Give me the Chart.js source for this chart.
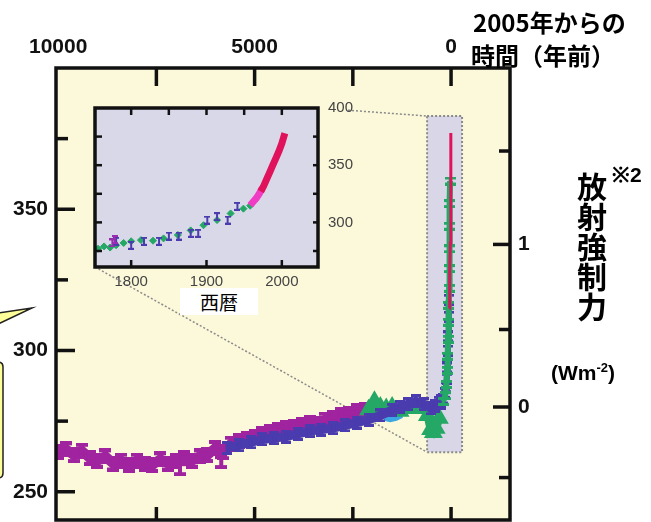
<!DOCTYPE html>
<html>
<head>
<meta charset="utf-8">
<script src="https://cdn.jsdelivr.net/npm/chart.js@4.4.1/dist/chart.umd.min.js"></script>
<style>
  body { margin: 0; background: #fff; }
  #wrap { position: relative; width: 651px; height: 522px; overflow: hidden; }
  #main { position: absolute; left: 0; top: 0; }
  #inset { position: absolute; left: 80px; top: 95px; }
  .txt { position: absolute; white-space: nowrap; color: #000; font-weight: bold;
         font-family: "Noto Sans CJK JP", "Liberation Sans", sans-serif; }
  .num { font-family: "Liberation Sans", Arial, sans-serif; }
  #seireki { left: 180px; top: 288px; width: 78px; height: 27px; background: #fff;
             font-weight: normal; font-size: 19px; line-height: 27px; text-align: center; }
  #vert { left: 576px; top: 172px; font-size: 30px; line-height: 31px; writing-mode: vertical-rl; }
</style>
</head>
<body>
<div id="wrap">
  <!-- taller than the page so the frame bottom lands at y=520 after Chart.js label padding -->
  <canvas id="main" width="651" height="534"></canvas>
  <canvas id="inset" width="290" height="200"></canvas>
  <div class="txt" style="left:473px; top:4px; font-size:24px;">2005年からの</div>
  <div class="txt" style="left:471px; top:37px; font-size:24px;">時間（年前）</div>
  <div class="txt num" style="left:612px; top:160px; font-size:21px;">※2</div>
  <div class="txt" id="vert">放射強制力</div>
  <div class="txt num" style="left:551px; top:360px; font-size:21px;">(Wm<sup style="font-size:13px">-2</sup>)</div>
  <div class="txt" id="seireki">西暦</div>
</div>
<script>
// ---- main panel: years before 2005 vs CO2 (ppm) ----
const magentaBP  = [10000, 9800, 9600, 9400, 9200, 9000, 8800, 8600, 8400, 8200, 8000, 7800, 7600, 7400, 7200, 7000, 6800, 6600, 6400, 6200, 6000, 5800, 5600, 5400, 5200, 5000, 4800, 4600, 4400, 4200, 4000, 3800, 3600, 3400, 3200, 3000, 2800, 2600, 2400, 2200];
const magentaCO2 = [264, 265, 263, 264.5, 262, 261, 262.5, 260, 261, 259.5, 261, 260, 259.5, 261.5, 260, 261, 262, 261, 262.5, 263, 265.5, 264, 267, 268, 268.5, 269.5, 270.5, 271, 272, 272.5, 273, 273.5, 274.5, 274, 275.5, 276, 277, 277.5, 278.5, 279];
const magentaOddBP  = [6900, 5850];
const magentaOddCO2 = [258, 260.5];

const blueBP  = [5700, 5400, 5100, 4800, 4500, 4200, 3900, 3600, 3300, 3000, 2700, 2400, 2100, 1800, 1500, 1300, 1100, 900, 700, 500, 400, 300, 250];
const blueCO2 = [265.5, 266.5, 267.5, 268.5, 269, 269.5, 270.5, 271.5, 272, 272.5, 273.5, 274.5, 275.5, 277, 279, 280, 281, 282, 281, 279.5, 280.5, 281.5, 282];

const greenBP  = [2100, 1950, 1800, 1650, 1500, 1300, 1100, 900, 700, 600, 520, 450, 380, 300];
const greenCO2 = [279, 282, 280, 279.5, 280, 278.5, 279.5, 280, 279.5, 277, 272, 271, 272.5, 276];

const cyanBP  = [1700, 1550, 1400, 1250];
const cyanCO2 = [276, 275.5, 276, 277];

const spikeBlueBP  = [250, 200, 160, 130, 110, 95, 80, 70, 60, 55];
const spikeBlueCO2 = [281, 283, 285, 287, 290, 294, 300, 305, 312, 318];
const spikeGreenBP  = [200, 150, 120, 100, 85, 75, 65, 55, 50, 45, 40, 35, 30, 25];
const spikeGreenCO2 = [282, 284, 288, 293, 298, 304, 310, 316, 322, 329, 336, 344, 352, 360];
const spikeRedBP  = [47, 40, 30, 20, 10, 2];
const spikeRedCO2 = [315, 320, 328, 338, 352, 377];

// axis ticks
const yearLabelTicks = [10000, 5000, 0];
const yearMarkTicks  = [7500, 5000, 2500, 0];
const co2LabelTicks  = [250, 300, 350];
const co2MinorTicks  = [275, 325, 375];
const forcingTicks   = [-0.5, 0, 0.5, 1, 1.5];
const forcingLabels  = ['', '0', '', '1', ''];
const refCO2 = 280;   // forcing = 5.35 ln(C / refCO2)
const forcingToCO2 = f => refCO2 * Math.exp(f / 5.35);

// ---- inset: calendar year vs CO2 ----
const insetGreenYear = [1756, 1764, 1772, 1780, 1790, 1800, 1813, 1829, 1843, 1862, 1879, 1896, 1914, 1932, 1949, 1958];
const insetGreenCO2  = [277, 279, 278, 280, 282, 283.5, 284.5, 284, 286, 289, 293, 297.5, 302, 307.8, 312, 314.6];
const insetBlueYear = [1780, 1800, 1817, 1837, 1850, 1863, 1879, 1889, 1901, 1914, 1928, 1941];
const insetBlueCO2  = [283.5, 280, 283.5, 283.5, 288, 288, 290.5, 290.5, 302, 305, 302, 314];
const insetPurpleYear = [1775, 1778];
const insetPurpleCO2  = [282, 285];
const insetPinkYear = [1958, 1962, 1966, 1970, 1974];
const insetPinkCO2  = [315, 318, 321, 325, 330];
const insetRedYear = [1972, 1976, 1980, 1984, 1988, 1992, 1996, 2000, 2004];
const insetRedCO2  = [327, 332, 338, 344, 350, 356, 362, 369, 378];
const insetYearTicks = [1800, 1900, 2000];
const insetYearMarks = [1800, 1850, 1900, 1950, 2000];
const insetCO2Ticks  = [300, 350, 400];
const insetCO2Marks  = [275, 300, 325, 350, 375];

const pts = (xs, ys) => xs.map((x, i) => ({ x: x, y: ys[i] }));

function errBar(color, w, h, lw) {
  const c = document.createElement('canvas');
  c.width = w; c.height = h;
  const g = c.getContext('2d');
  g.fillStyle = color;
  g.fillRect((w - lw) / 2, 0, lw, h);
  g.fillRect(0, 0, w, lw);
  g.fillRect(0, h - lw, w, lw);
  return c;
}

// keep the plot area exactly where afterFit puts it
function noPad(s) { s.paddingTop = 0; s.paddingBottom = 0; s.paddingLeft = 0; s.paddingRight = 0; }

const MAGENTA = '#A0239F', BLUE = '#4A3BAE', GREEN = '#25A866', CYAN = '#3AA6E2', RED = '#E0125C', PINK = '#F03CC4';
const numFont = { family: 'Liberation Sans', weight: 'bold', size: 21 };

// plot background, inward tick marks and frame
function makePanel(bg, tickWidth, frame, marks) {
  return {
    id: 'panel',
    beforeDraw(chart) {
      const a = chart.chartArea, ctx = chart.ctx;
      ctx.save();
      ctx.fillStyle = bg;
      ctx.fillRect(a.left, a.top, a.width, a.height);
      ctx.restore();
    },
    afterDatasetsDraw(chart) {
      const a = chart.chartArea, ctx = chart.ctx;
      ctx.save();
      ctx.strokeStyle = '#111';
      ctx.lineWidth = tickWidth;
      marks.forEach(m => {
        const s = chart.scales[m.scale];
        m.values.forEach(v => {
          const p = s.getPixelForValue(m.conv ? m.conv(v) : v);
          ctx.beginPath();
          if (m.side === 'top')    { ctx.moveTo(p, a.top);    ctx.lineTo(p, a.top + m.len); }
          if (m.side === 'bottom') { ctx.moveTo(p, a.bottom); ctx.lineTo(p, a.bottom - m.len); }
          if (m.side === 'left')   { ctx.moveTo(a.left, p);   ctx.lineTo(a.left + m.len, p); }
          if (m.side === 'right')  { ctx.moveTo(a.right, p);  ctx.lineTo(a.right - m.len, p); }
          ctx.stroke();
        });
      });
      ctx.lineWidth = frame;
      ctx.strokeRect(a.left, a.top, a.width, a.height);
      ctx.restore();
    }
  };
}

const insetChart = new Chart(document.getElementById('inset'), {
  type: 'scatter',
  data: {
    datasets: [
      { data: pts(insetRedYear, insetRedCO2), showLine: true, borderColor: RED, borderWidth: 7, pointRadius: 0 },
      { data: pts(insetPinkYear, insetPinkCO2), showLine: true, borderColor: PINK, borderWidth: 7, pointRadius: 0 },
      { data: pts(insetPurpleYear, insetPurpleCO2), pointStyle: errBar('#9A2CB0', 6, 9, 2), pointRadius: 3 },
      { data: pts(insetBlueYear, insetBlueCO2), pointStyle: errBar(BLUE, 6, 9, 2), pointRadius: 3 },
      { data: pts(insetGreenYear, insetGreenCO2), backgroundColor: GREEN, borderColor: GREEN, pointStyle: 'rectRot', pointRadius: 3.5 }
    ]
  },
  options: {
    responsive: false,
    animation: false,
    events: [],
    layout: { padding: { left: 15, top: 13, right: 0, bottom: 0 } },
    plugins: { legend: { display: false }, tooltip: { enabled: false } },
    scales: {
      x: {
        type: 'linear', position: 'bottom', min: 1752, max: 2048,
        grid: { display: false, drawTicks: false }, border: { display: false },
        afterBuildTicks: s => { s.ticks = insetYearTicks.map(v => ({ value: v })); },
        afterFit: s => { s.height = 28; noPad(s); },
        ticks: { padding: 6, color: '#444', font: { family: 'Liberation Sans', size: 15 }, callback: v => String(v) }
      },
      y: {
        type: 'linear', position: 'right', min: 261, max: 400,
        grid: { display: false, drawTicks: false }, border: { display: false },
        afterBuildTicks: s => { s.ticks = insetCO2Ticks.map(v => ({ value: v })); },
        afterFit: s => { s.width = 52; noPad(s); },
        ticks: { padding: 10, color: '#444', font: { family: 'Liberation Sans', size: 15 }, callback: v => String(v) }
      }
    }
  },
  plugins: [makePanel('#D9D8E8', 2.5, 3.5, [
    { scale: 'x', side: 'top', values: insetYearMarks, len: 7 },
    { scale: 'x', side: 'bottom', values: insetYearTicks, len: 7 },
    { scale: 'y', side: 'left', values: insetCO2Marks, len: 7 },
    { scale: 'y', side: 'right', values: insetCO2Marks, len: 5 }
  ])]
});

// highlighted column, connector lines and the clipped call-out
const zoomBox = { fromBP: 610, toBP: -280, lowCO2: 264, highCO2: 383 };
const extras = {
  id: 'extras',
  beforeDatasetsDraw(chart) {
    const ctx = chart.ctx, x = chart.scales.x, y = chart.scales.y;
    const l = x.getPixelForValue(zoomBox.fromBP), r = x.getPixelForValue(zoomBox.toBP);
    const t = y.getPixelForValue(zoomBox.highCO2), b = y.getPixelForValue(zoomBox.lowCO2);
    const ia = insetChart.chartArea;
    const ox = insetChart.canvas.offsetLeft, oy = insetChart.canvas.offsetTop;
    ctx.save();
    ctx.fillStyle = '#D9D7E7';
    ctx.fillRect(l, t, r - l, b - t);
    ctx.strokeStyle = '#8A8A8A';
    ctx.lineWidth = 2;
    ctx.setLineDash([2, 2]);
    ctx.strokeRect(l, t, r - l, b - t);
    ctx.lineWidth = 1.5;
    const x0 = ox + ia.right, y0 = oy + ia.top;
    const sx = x0 + 30, sy = y0 + (t - y0) * 30 / (l - x0);
    ctx.beginPath(); ctx.moveTo(sx, sy); ctx.lineTo(l, t); ctx.stroke();
    ctx.beginPath(); ctx.moveTo(ox + ia.left, oy + ia.bottom); ctx.lineTo(l, b); ctx.stroke();
    ctx.restore();
  },
  afterDraw(chart) {
    const ctx = chart.ctx;
    ctx.save();
    ctx.fillStyle = '#FFFF99';
    ctx.strokeStyle = '#222';
    ctx.lineWidth = 1.5;
    ctx.beginPath();
    ctx.moveTo(-10, 362); ctx.lineTo(-2, 362); ctx.quadraticCurveTo(3, 362, 3, 367);
    ctx.lineTo(3, 473); ctx.quadraticCurveTo(3, 478, -2, 478); ctx.lineTo(-10, 478);
    ctx.closePath(); ctx.fill(); ctx.stroke();
    ctx.beginPath();
    ctx.moveTo(-2, 313); ctx.lineTo(32, 308); ctx.lineTo(-2, 324);
    ctx.closePath(); ctx.fill(); ctx.stroke();
    ctx.restore();
  }
};

new Chart(document.getElementById('main'), {
  type: 'scatter',
  data: {
    datasets: [
      { data: pts(spikeRedBP, spikeRedCO2), showLine: true, borderColor: RED, borderWidth: 3, pointRadius: 0 },
      { data: pts(spikeGreenBP, spikeGreenCO2), showLine: true, borderColor: GREEN, borderWidth: 6,
        pointStyle: errBar(GREEN, 11, 9, 3), pointRadius: 4 },
      { data: pts(spikeBlueBP, spikeBlueCO2), showLine: true, borderColor: BLUE, borderWidth: 6,
        pointStyle: errBar(BLUE, 10, 12, 3), pointRadius: 4 },
      { data: pts(blueBP, blueCO2), showLine: true, borderColor: BLUE, borderWidth: 9,
        pointStyle: errBar(BLUE, 10, 14, 3), pointRadius: 4 },
      { data: pts(greenBP, greenCO2), showLine: true, borderColor: GREEN, borderWidth: 8,
        backgroundColor: GREEN, pointBorderColor: GREEN, pointStyle: 'triangle', pointRadius: 3 },
      { data: pts(cyanBP, cyanCO2), showLine: true, borderColor: CYAN, borderWidth: 5, pointRadius: 0 },
      { data: pts(magentaBP, magentaCO2), showLine: true, borderColor: MAGENTA, borderWidth: 10,
        pointStyle: errBar(MAGENTA, 12, 16, 4), pointRadius: 4 },
      { data: pts(magentaOddBP, magentaOddCO2), pointStyle: errBar(MAGENTA, 12, 14, 4), pointRadius: 4 }
    ]
  },
  options: {
    responsive: false,
    animation: false,
    events: [],
    layout: { padding: { left: 0, top: 0, right: 0, bottom: 0 } },
    plugins: { legend: { display: false }, tooltip: { enabled: false } },
    scales: {
      x: {
        type: 'linear', position: 'top', reverse: true, min: -1500, max: 10055,
        grid: { display: false, drawTicks: false }, border: { display: false },
        afterBuildTicks: s => { s.ticks = yearLabelTicks.map(v => ({ value: v })); },
        afterFit: s => { s.height = 68; noPad(s); },
        ticks: { padding: 8, color: '#111', font: numFont, maxRotation: 0, autoSkip: false, callback: v => String(v) }
      },
      y: {
        type: 'linear', position: 'left', min: 240, max: 400,
        grid: { display: false, drawTicks: false }, border: { display: false },
        afterBuildTicks: s => { s.ticks = co2LabelTicks.map(v => ({ value: v })); },
        afterFit: s => { s.width = 56; noPad(s); },
        ticks: { padding: 8, color: '#111', font: numFont, callback: v => String(v) }
      },
      y2: {
        type: 'linear', position: 'right', min: 240, max: 400,
        grid: { display: false, drawTicks: false }, border: { display: false },
        afterBuildTicks: s => { s.ticks = forcingTicks.map(f => ({ value: forcingToCO2(f) })); },
        afterFit: s => { s.width = 141; noPad(s); },
        ticks: { padding: 8, color: '#111', font: numFont, callback: (v, i) => forcingLabels[i] }
      }
    }
  },
  plugins: [makePanel('#FCF8DA', 3.5, 3.5, [
    { scale: 'x', side: 'top', values: yearMarkTicks, len: 18 },
    { scale: 'x', side: 'bottom', values: yearMarkTicks, len: 13 },
    { scale: 'y', side: 'left', values: co2LabelTicks, len: 19 },
    { scale: 'y', side: 'left', values: co2MinorTicks, len: 12 },
    { scale: 'y2', side: 'right', values: [0, 1], len: 17, conv: forcingToCO2 },
    { scale: 'y2', side: 'right', values: [-0.5, 0.5, 1.5], len: 11, conv: forcingToCO2 }
  ]), extras]
});
</script>
</body>
</html>
